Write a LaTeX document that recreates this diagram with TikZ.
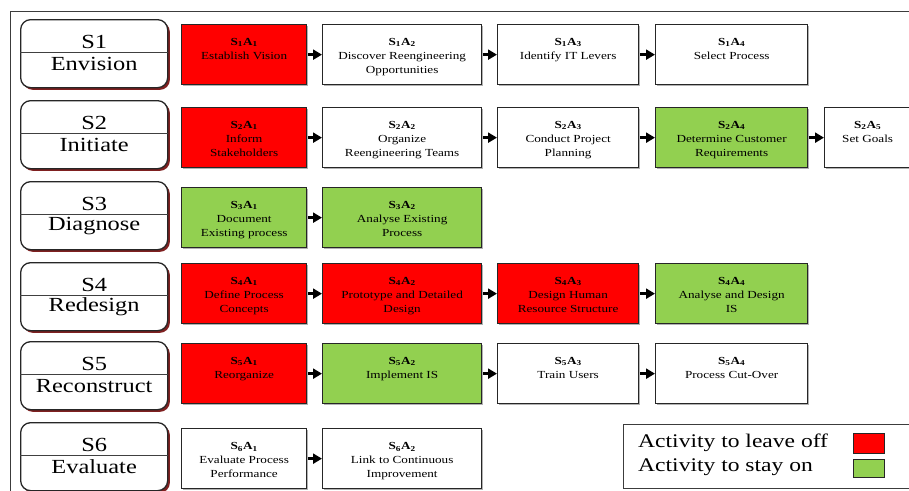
\documentclass[tikz,border=0pt]{standalone}
\usepackage{fontspec}
\setmainfont{Liberation Serif}[FakeStretch=1.22]
\usetikzlibrary{shadows,arrows.meta}

\definecolor{actred}{RGB}{255,0,0}
\definecolor{actgreen}{RGB}{146,208,80}
\definecolor{stageshadow}{RGB}{120,20,20}
\definecolor{framegray}{RGB}{60,60,60}

% bold activity code, e.g. S_1A_2
\newcommand\sa[2]{\textbf{S\textsubscript{#1}A\textsubscript{#2}}}
% activity box: name, left x, top y, width, fill, text
\newcommand\actnode[6]{%
  \node[actbox, fill=#5, minimum width=#4pt,
        label={[acttext]north:{#6}}] (#1) at (#2,#3) {};}

\tikzset{
  stagebox/.style={draw=black!85, line width=1.3pt, rounded corners=10pt,
    fill=white, minimum width=147pt, minimum height=68pt, anchor=north west,
    inner sep=0pt,
    drop shadow={shadow xshift=2.2pt, shadow yshift=-2.2pt, fill=stageshadow, opacity=0.95}},
  divider/.style={draw=black!75, line width=0.8pt},
  stagetext/.style={font=\fontsize{20}{22}\selectfont, inner sep=0pt},
  actbox/.style={draw=black!85, line width=1.3pt, minimum height=60pt,
    anchor=north west, inner sep=0pt,
    drop shadow={shadow xshift=1.8pt, shadow yshift=-1.8pt, fill=black, opacity=0.3}},
  acttext/.style={anchor=north, yshift=-14pt, align=center, inner sep=0pt,
    font=\fontsize{10.8}{14}\selectfont},
  flow/.style={line width=2.4pt, -{Triangle[length=9pt,width=10pt]}, shorten <=0.6pt},
  legbox/.style={draw=framegray, line width=1.3pt, anchor=north west,
    minimum width=330pt, minimum height=64pt, fill=white},
  legtext/.style={font=\fontsize{19.3}{22}\selectfont, anchor=west, inner sep=0pt},
  swatch/.style={draw=black!85, line width=0.9pt, anchor=north west,
    minimum width=31pt, inner sep=0pt},
}

\begin{document}
\begin{tikzpicture}[x=1pt, y=-1pt]
\useasboundingbox (0,0) rectangle (909,490);
\clip (0,0) rectangle (909,490);

% outer frame
\draw[framegray, line width=0.9pt] (10,520) -- (10,11) -- (940,11);

% stage boxes
\foreach \i/\t/\nm in {1/19/Envision, 2/100/Initiate, 3/181/Diagnose,
                       4/262/Redesign, 5/341/Reconstruct, 6/422/Evaluate}{
  \node[stagebox] (s\i) at (20,\t) {};
  \draw[divider] ([yshift=-33pt]s\i.north west) -- ([yshift=-33pt]s\i.north east);
  \node[stagetext] (s\i-num) at ([yshift=-23pt]s\i.north) {S\i};
  \node[stagetext] (s\i-name) at ([yshift=-45pt]s\i.north) {\nm};
}

% row 1
\actnode{a11}{181}{24}{125}{actred}{\sa11\\Establish Vision}
\actnode{a12}{322}{24}{159}{white}{\sa12\\Discover Reengineering\\Opportunities}
\actnode{a13}{497}{24}{141}{white}{\sa13\\Identify IT Levers}
\actnode{a14}{655}{24}{152}{white}{\sa14\\Select Process}
\draw[flow] (a11.east) -- (a12.west);
\draw[flow] (a12.east) -- (a13.west);
\draw[flow] (a13.east) -- (a14.west);

% row 2
\actnode{a21}{181}{107}{125}{actred}{\sa21\\Inform\\Stakeholders}
\actnode{a22}{322}{107}{159}{white}{\sa22\\Organize\\Reengineering Teams}
\actnode{a23}{497}{107}{141}{white}{\sa23\\Conduct Project\\Planning}
\actnode{a24}{655}{107}{152}{actgreen}{\sa24\\Determine Customer\\Requirements}
\actnode{a25}{824}{107}{86}{white}{\sa25\\Set Goals}
\draw[flow] (a21.east) -- (a22.west);
\draw[flow] (a22.east) -- (a23.west);
\draw[flow] (a23.east) -- (a24.west);
\draw[flow] (a24.east) -- (a25.west);

% row 3
\actnode{a31}{181}{187}{125}{actgreen}{\sa31\\Document\\Existing process}
\actnode{a32}{322}{187}{159}{actgreen}{\sa32\\Analyse Existing\\Process}
\draw[flow] (a31.east) -- (a32.west);

% row 4
\actnode{a41}{181}{263}{125}{actred}{\sa41\\Define Process\\Concepts}
\actnode{a42}{322}{263}{159}{actred}{\sa42\\Prototype and Detailed\\Design}
\actnode{a43}{497}{263}{141}{actred}{\sa43\\Design Human\\Resource Structure}
\actnode{a44}{655}{263}{152}{actgreen}{\sa44\\Analyse and Design\\IS}
\draw[flow] (a41.east) -- (a42.west);
\draw[flow] (a42.east) -- (a43.west);
\draw[flow] (a43.east) -- (a44.west);

% row 5
\actnode{a51}{181}{343}{125}{actred}{\sa51\\Reorganize}
\actnode{a52}{322}{343}{159}{actgreen}{\sa52\\Implement IS}
\actnode{a53}{497}{343}{141}{white}{\sa53\\Train Users}
\actnode{a54}{655}{343}{152}{white}{\sa54\\Process Cut-Over}
\draw[flow] (a51.east) -- (a52.west);
\draw[flow] (a52.east) -- (a53.west);
\draw[flow] (a53.east) -- (a54.west);

% row 6
\actnode{a61}{181}{428}{125}{white}{\sa61\\Evaluate Process\\Performance}
\actnode{a62}{322}{428}{159}{white}{\sa62\\Link to Continuous\\Improvement}
\draw[flow] (a61.east) -- (a62.west);

% legend
\node[legbox] (legend) at (623,424) {};
\node[legtext] (leg1) at (638,443) {Activity to leave off};
\node[legtext] (leg2) at (638,467) {Activity to stay on};
\node[swatch, fill=actred, minimum height=20pt] (sw1) at (853,433) {};
\node[swatch, fill=actgreen, minimum height=18pt] (sw2) at (853,459) {};
\end{tikzpicture}
\end{document}
